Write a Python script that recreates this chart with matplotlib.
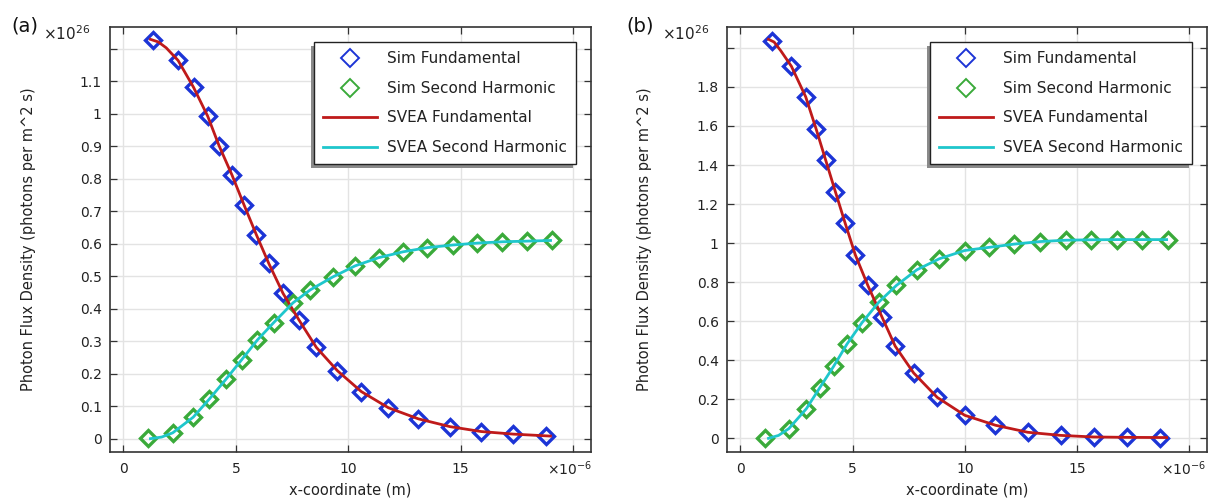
import matplotlib
matplotlib.use("Agg")
import matplotlib.pyplot as plt
from matplotlib.lines import Line2D
from matplotlib.patches import Rectangle

# ---------------- data (x in micrometres, y in 1e26 photons/(m^2 s)) ----------------
a_sim_fund_x = [1.33, 2.43, 3.12, 3.75, 4.25, 4.83, 5.36, 5.91, 6.46, 7.10, 7.81, 8.58, 9.52, 10.58, 11.79, 13.12, 14.53, 15.91, 17.35, 18.79]
a_sim_fund_y = [1.226, 1.164, 1.081, 0.992, 0.902, 0.811, 0.720, 0.628, 0.540, 0.447, 0.365, 0.281, 0.209, 0.145, 0.095, 0.061, 0.037, 0.022, 0.014, 0.009]
a_sim_sh_x = [1.10, 2.19, 3.10, 3.82, 4.56, 5.26, 5.96, 6.68, 7.54, 8.31, 9.32, 10.31, 11.35, 12.43, 13.52, 14.64, 15.75, 16.86, 17.97, 19.08]
a_sim_sh_y = [0.001, 0.018, 0.066, 0.122, 0.183, 0.243, 0.304, 0.357, 0.418, 0.458, 0.498, 0.532, 0.557, 0.575, 0.588, 0.596, 0.602, 0.606, 0.608, 0.610]
a_svea_fund_x = [1.2, 1.55, 1.9, 2.43, 3.12, 3.75, 4.25, 4.83, 5.36, 5.91, 6.46, 7.10, 7.81, 8.58, 9.52, 10.58, 11.79, 13.12, 14.53, 15.91, 17.35, 19.0]
a_svea_fund_y = [1.229, 1.221, 1.203, 1.164, 1.081, 0.992, 0.902, 0.811, 0.720, 0.628, 0.540, 0.447, 0.365, 0.281, 0.209, 0.145, 0.095, 0.061, 0.037, 0.022, 0.014, 0.008]
a_svea_sh_x = [1.2, 1.7, 2.19, 3.10, 3.82, 4.56, 5.26, 5.96, 6.68, 7.54, 8.31, 9.32, 10.31, 11.35, 12.43, 13.52, 14.64, 15.75, 16.86, 17.97, 19.0]
a_svea_sh_y = [0.0, 0.005, 0.018, 0.066, 0.122, 0.183, 0.243, 0.304, 0.357, 0.418, 0.458, 0.498, 0.532, 0.557, 0.575, 0.588, 0.596, 0.602, 0.606, 0.608, 0.610]

b_sim_fund_x = [1.39, 2.27, 2.91, 3.37, 3.80, 4.23, 4.66, 5.12, 5.68, 6.30, 6.90, 7.72, 8.77, 10.00, 11.37, 12.81, 14.29, 15.74, 17.23, 18.71]
b_sim_fund_y = [2.035, 1.906, 1.749, 1.586, 1.425, 1.264, 1.105, 0.940, 0.783, 0.624, 0.472, 0.335, 0.210, 0.118, 0.067, 0.031, 0.015, 0.007, 0.005, 0.004]
b_sim_sh_x = [1.11, 2.16, 2.94, 3.53, 4.15, 4.75, 5.41, 6.17, 6.95, 7.86, 8.87, 9.99, 11.07, 12.21, 13.37, 14.51, 15.64, 16.79, 17.92, 19.08]
b_sim_sh_y = [0.002, 0.050, 0.152, 0.258, 0.368, 0.483, 0.591, 0.698, 0.783, 0.863, 0.920, 0.962, 0.978, 0.995, 1.008, 1.015, 1.017, 1.018, 1.018, 1.018]
b_svea_fund_x = [1.25, 1.5, 1.8, 2.27, 2.91, 3.37, 3.80, 4.23, 4.66, 5.12, 5.68, 6.30, 6.90, 7.72, 8.77, 10.00, 11.37, 12.81, 14.29, 15.74, 17.23, 19.0]
b_svea_fund_y = [2.044, 2.030, 1.985, 1.906, 1.749, 1.586, 1.425, 1.264, 1.105, 0.940, 0.783, 0.624, 0.472, 0.335, 0.210, 0.118, 0.067, 0.031, 0.015, 0.007, 0.005, 0.004]
b_svea_sh_x = [1.25, 1.7, 2.16, 2.94, 3.53, 4.15, 4.75, 5.41, 6.17, 6.95, 7.86, 8.87, 9.99, 11.07, 12.21, 13.37, 14.51, 15.64, 16.79, 17.92, 19.0]
b_svea_sh_y = [0.0, 0.015, 0.050, 0.152, 0.258, 0.368, 0.483, 0.591, 0.698, 0.783, 0.863, 0.920, 0.962, 0.978, 0.995, 1.008, 1.015, 1.017, 1.018, 1.018, 1.018]

x_ticks = [0, 5, 10, 15, 20]
x_tick_labels = ["0", "5", "10", "15", ""]
a_y_ticks = [0, 0.1, 0.2, 0.3, 0.4, 0.5, 0.6, 0.7, 0.8, 0.9, 1.0, 1.1, 1.2]
a_y_tick_labels = ["0", "0.1", "0.2", "0.3", "0.4", "0.5", "0.6", "0.7", "0.8", "0.9", "1", "1.1", ""]
b_y_ticks = [0, 0.2, 0.4, 0.6, 0.8, 1.0, 1.2, 1.4, 1.6, 1.8, 2.0]
b_y_tick_labels = ["0", "0.2", "0.4", "0.6", "0.8", "1", "1.2", "1.4", "1.6", "1.8", ""]
legend_labels = ["Sim Fundamental", "Sim Second Harmonic", "SVEA Fundamental", "SVEA Second Harmonic"]
y_label = "Photon Flux Density (photons per m^2 s)"
x_label = "x-coordinate (m)"

# ---------------- style ----------------
W, H = 1209, 498
DPI = 100
C_BLUE = "#1c34d6"
C_GREEN = "#3aaa3a"
C_RED = "#bf1a1a"
C_CYAN = "#1fc6cc"
TXT = "#222222"
plt.rcParams["font.family"] = ["DejaVu Sans"]

fig = plt.figure(figsize=(W / DPI, H / DPI), dpi=DPI)


def px_axes(l, r, t, b):
    return [l / W, (H - b) / H, (r - l) / W, (b - t) / H]


panels = [
    dict(rect=px_axes(110, 591, 27, 452), ylim=(-0.041, 1.267),
         yt=a_y_ticks, ytl=a_y_tick_labels,
         sf=(a_sim_fund_x, a_sim_fund_y), ss=(a_sim_sh_x, a_sim_sh_y),
         lf=(a_svea_fund_x, a_svea_fund_y), ls=(a_svea_sh_x, a_svea_sh_y),
         tag="(a)", tagx=11, ylx=28, expx=43, xexp=547),
    dict(rect=px_axes(727, 1207, 27, 452), ylim=(-0.070, 2.107),
         yt=b_y_ticks, ytl=b_y_tick_labels,
         sf=(b_sim_fund_x, b_sim_fund_y), ss=(b_sim_sh_x, b_sim_sh_y),
         lf=(b_svea_fund_x, b_svea_fund_y), ls=(b_svea_sh_x, b_svea_sh_y),
         tag="(b)", tagx=626, ylx=644, expx=662, xexp=1161),
]

axes = []
for p in panels:
    ax = fig.add_axes(p["rect"])
    axes.append(ax)
    ax.set_xlim(-0.6, 20.8)
    ax.set_ylim(*p["ylim"])
    ax.set_xticks(x_ticks)
    ax.set_xticklabels(x_tick_labels)
    ax.set_yticks(p["yt"])
    ax.set_yticklabels(p["ytl"])
    ax.grid(True, color="#e3e3e3", linewidth=1.0)
    ax.set_axisbelow(True)
    ax.tick_params(direction="in", length=5, width=0.9, top=True, right=True,
                   labelsize=10, colors="#333333", labelcolor=TXT)
    ax.tick_params(axis="x", pad=7)
    ax.tick_params(axis="y", pad=6)
    for s in ax.spines.values():
        s.set_linewidth(1.2)
        s.set_color("#333333")

    ax.plot(*p["sf"], linestyle="none", marker="D", markersize=8.5, mfc="none",
            mec=C_BLUE, mew=2.4, zorder=3)
    ax.plot(*p["ss"], linestyle="none", marker="D", markersize=8.5, mfc="none",
            mec=C_GREEN, mew=2.4, zorder=3)
    ax.plot(*p["lf"], color=C_RED, linewidth=2.0, zorder=4)
    ax.plot(*p["ls"], color=C_CYAN, linewidth=2.0, zorder=4)

    handles = [
        Line2D([], [], linestyle="none", marker="D", markersize=9, mfc="none", mec=C_BLUE, mew=1.4),
        Line2D([], [], linestyle="none", marker="D", markersize=9, mfc="none", mec=C_GREEN, mew=1.4),
        Line2D([], [], color=C_RED, linewidth=2.0),
        Line2D([], [], color=C_CYAN, linewidth=2.0),
    ]
    leg = ax.legend(handles, legend_labels, loc="upper right", fontsize=11,
                    frameon=True, fancybox=False, framealpha=1, edgecolor="#222222",
                    borderaxespad=1.0, handlelength=3.5, handletextpad=0.65,
                    labelspacing=0.95, borderpad=0.6)
    leg.get_frame().set_linewidth(1.0)
    for t in leg.get_texts():
        t.set_color(TXT)
    p["leg"] = leg

    ax.set_ylabel(y_label, fontsize=10.5, color=TXT)
    ax.yaxis.set_label_coords((p["ylx"] - p["rect"][0] * W) / (p["rect"][2] * W), 0.5)
    ax.set_xlabel(x_label, fontsize=10.5, color=TXT)
    ax.xaxis.set_label_coords(0.5, -(490 - 452) / (p["rect"][3] * H))
    ax.xaxis.label.set_va("center")
    ax.yaxis.label.set_va("center")

    fig.text(p["tagx"] / W, 1 - 26 / H, p["tag"], fontsize=14, color="#111111",
             ha="left", va="center")
    fig.text(p["expx"] / W, 1 - 40 / H, r"$\times10^{26}$", fontsize=11, color=TXT,
             ha="left", va="baseline")
    fig.text(p["xexp"] / W, 1 - 475 / H, r"$\times10^{-6}$", fontsize=10, color=TXT,
             ha="left", va="baseline")

# legend drop shadows (offset left/down)
fig.canvas.draw()
for ax, p in zip(axes, panels):
    bb = p["leg"].get_window_extent()
    inv = ax.transAxes.inverted()
    (x0, y0), (x1, y1) = inv.transform([(bb.x0 - 3, bb.y0 - 4), (bb.x1 - 3, bb.y1 - 4)])
    ax.add_patch(Rectangle((x0, y0), x1 - x0, y1 - y0, transform=ax.transAxes,
                           facecolor="#8a8a8a", edgecolor="none", zorder=4.9, clip_on=False))

fig.savefig("out.png", dpi=DPI)
